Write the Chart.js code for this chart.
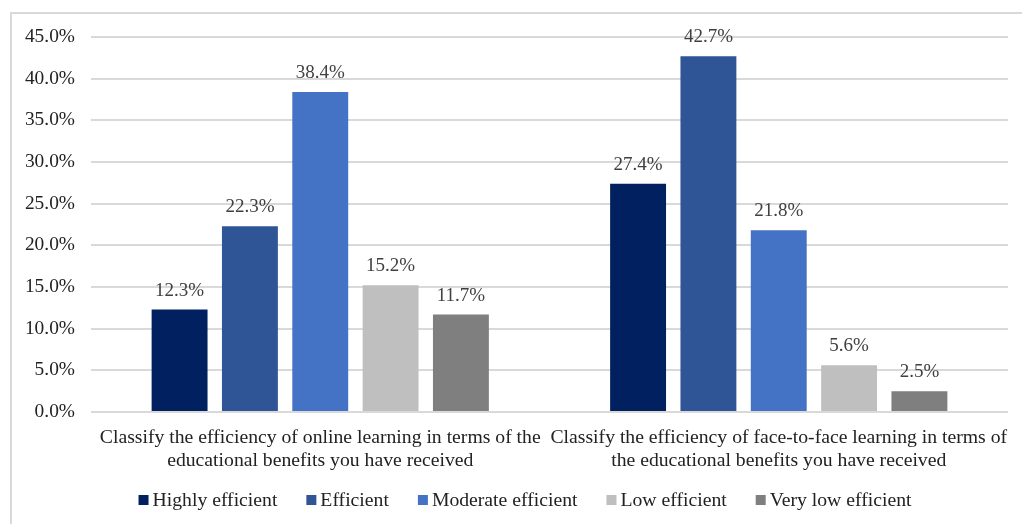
<!DOCTYPE html>
<html>
<head>
<meta charset="utf-8">
<script src="https://cdn.jsdelivr.net/npm/chart.js@4.4.1/dist/chart.umd.min.js"></script>
<style>
  html, body { margin: 0; padding: 0; background: #fff; overflow: hidden; }
  #frame { position: absolute; left: 10px; top: 12px; width: 1030px; height: 540px; border: 2px solid #d9d9d9; box-sizing: border-box; }
  #wrap { position: absolute; left: 0; top: 0; width: 1022px; height: 524px; }
  .probe { position: absolute; left: -9999px; top: 0; font-family: "Liberation Serif"; font-size: 18px; }
</style>
</head>
<body>
<div id="frame"></div>
<span class="probe">Classify 45.0%</span>
<div id="wrap"><canvas id="chart" width="1022" height="524"></canvas></div>
<script>
const categories = [
  ["Classify the efficiency of online learning in terms of the", "educational benefits you have received"],
  ["Classify the efficiency of face-to-face learning in terms of", "the educational benefits you have received"],
];
const seriesNames = ["Highly efficient", "Efficient", "Moderate efficient", "Low efficient", "Very low efficient"];
const seriesColors = ["#002060", "#2f5597", "#4472c4", "#bfbfbf", "#7f7f7f"];
const highlyEfficient = [12.3, 27.4];
const efficient = [22.3, 42.7];
const moderateEfficient = [38.4, 21.8];
const lowEfficient = [15.2, 5.6];
const veryLowEfficient = [11.7, 2.5];
const seriesValues = [highlyEfficient, efficient, moderateEfficient, lowEfficient, veryLowEfficient];

const FONT = '"Liberation Serif", "Times New Roman", serif';

// value labels above each bar
const barLabels = {
  id: "barLabels",
  afterDatasetsDraw(chart) {
    const ctx = chart.ctx;
    ctx.save();
    ctx.font = `19px ${FONT}`;
    ctx.fillStyle = "#404040";
    ctx.textAlign = "center";
    ctx.textBaseline = "alphabetic";
    chart.data.datasets.forEach((ds, i) => {
      chart.getDatasetMeta(i).data.forEach((bar, j) => {
        ctx.fillText(ds.data[j].toFixed(1) + "%", bar.x, bar.y - 14);
      });
    });
    ctx.restore();
  },
};

// legend row at the bottom
const bottomLegend = {
  id: "bottomLegend",
  afterDraw(chart) {
    const ctx = chart.ctx;
    ctx.save();
    ctx.font = `19.7px ${FONT}`;
    ctx.textBaseline = "middle";
    const box = 10, gap = 4, itemGap = 29;
    const widths = seriesNames.map((n) => box + gap + ctx.measureText(n).width);
    const total = widths.reduce((a, b) => a + b, 0) + itemGap * (widths.length - 1);
    let x = 525 - total / 2;
    const y = 500;
    seriesNames.forEach((n, i) => {
      ctx.fillStyle = seriesColors[i];
      ctx.fillRect(x, y - box / 2, box, box);
      ctx.fillStyle = "#222";
      ctx.fillText(n, x + box + gap, y + 1);
      x += widths[i] + itemGap;
    });
    ctx.restore();
  },
};

function draw() {
  new Chart(document.getElementById("chart"), {
    type: "bar",
    data: {
      labels: categories,
      datasets: seriesNames.map((name, i) => ({
        label: name,
        data: seriesValues[i],
        backgroundColor: seriesColors[i],
        categoryPercentage: 0.767,
        barPercentage: 0.795,
      })),
    },
    options: {
      responsive: false,
      animation: false,
      layout: { padding: { left: 0, right: 14, top: 37, bottom: 42 } },
      plugins: { legend: { display: false }, tooltip: { enabled: false } },
      scales: {
        x: {
          grid: { display: false },
          border: { display: false },
          ticks: { color: "#222", font: { family: FONT, size: 19.7, lineHeight: 1.17 }, padding: 6, maxRotation: 0, autoSkip: false },
          afterFit: (s) => { s.height = 70; },
        },
        y: {
          min: 0,
          max: 45,
          ticks: { stepSize: 5, color: "#222", font: { family: FONT, size: 19.4 }, padding: 16, callback: (v) => v.toFixed(1) + "%" },
          grid: { color: "#d9d9d9", lineWidth: 2, drawTicks: false },
          border: { display: false },
          afterFit: (s) => { s.width = 91; },
        },
      },
    },
    plugins: [barLabels, bottomLegend],
  });
}

document.fonts.load('18px "Liberation Serif"').then(draw, draw);
</script>
</body>
</html>
